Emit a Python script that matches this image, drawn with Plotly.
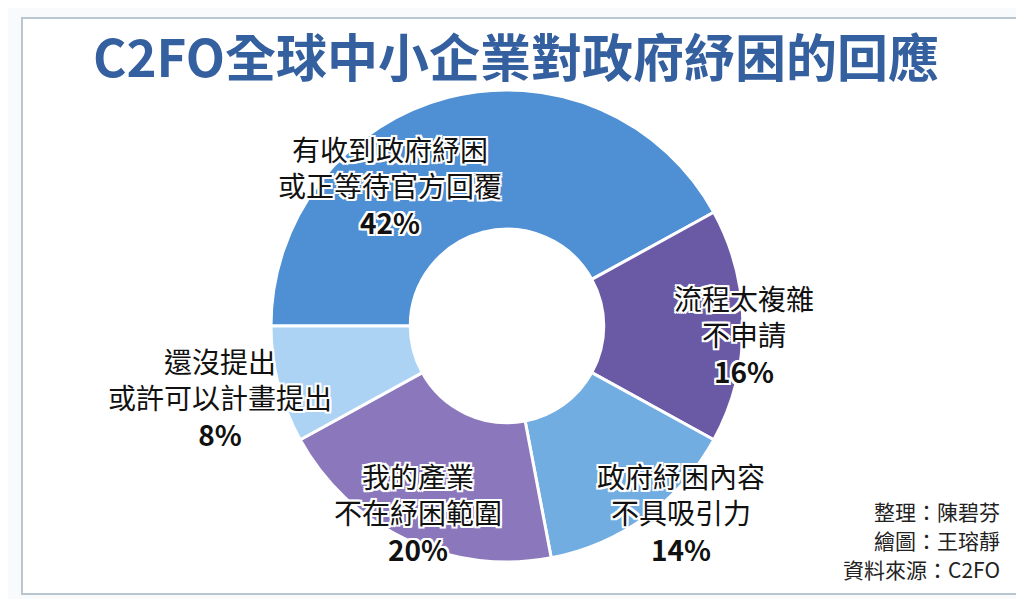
import plotly.graph_objects as go

# ---- data ----
categories = [
    "有收到政府紓困<br>或正等待官方回覆",
    "流程太複雜<br>不申請",
    "政府紓困內容<br>不具吸引力",
    "我的產業<br>不在紓困範圍",
    "還沒提出<br>或許可以計畫提出",
]
values = [42, 16, 14, 20, 8]
colors = ["#4f8fd4", "#6a5aa6", "#72ade2", "#8b78bc", "#acd2f4"]

title_text = "C2FO全球中小企業對政府紓困的回應"
credits = ["整理：陳碧芬", "繪圖：王瑢靜", "資料來源：C2FO"]

W, H = 1024, 599

# label anchor positions (pixels, centre of label block)
label_pos = [(382, 178), (736, 326), (673, 504), (410, 504), (212, 390)]

cx, cy, R = 499, 318, 236

fig = go.Figure()
fig.add_trace(go.Pie(
    labels=categories,
    values=values,
    sort=False,
    direction="clockwise",
    rotation=270,
    hole=0.41,
    marker=dict(colors=colors, line=dict(color="white", width=3)),
    textinfo="none",
    hoverinfo="label+percent",
    showlegend=False,
    domain=dict(x=[(cx - R) / W, (cx + R) / W],
                y=[1 - (cy + R) / H, 1 - (cy - R) / H]),
))

halo = ("2px 0 0 #fff, -2px 0 0 #fff, 0 2px 0 #fff, 0 -2px 0 #fff, "
        "2px 2px 0 #fff, -2px -2px 0 #fff, 2px -2px 0 #fff, -2px 2px 0 #fff")

annotations = []
for cat, val, (px, py) in zip(categories, values, label_pos):
    annotations.append(dict(
        x=px / W, y=1 - py / H, xref="paper", yref="paper",
        xanchor="center", yanchor="middle", showarrow=False, align="center",
        text=f"{cat}<br><b>{val}%</b>",
        font=dict(family="Noto Sans CJK TC", size=28, color="#111111", shadow=halo),
    ))

annotations.append(dict(
    x=508 / W, y=1 - 47 / H, xref="paper", yref="paper",
    xanchor="center", yanchor="middle", showarrow=False,
    text=title_text,
    font=dict(family="Noto Sans CJK TC", size=51, color="#34609f", weight=600),
))

for i, c in enumerate(credits):
    annotations.append(dict(
        x=994 / W, y=1 - (503 + i * 29) / H, xref="paper", yref="paper",
        xanchor="right", yanchor="middle", showarrow=False,
        text=c,
        font=dict(family="Noto Sans CJK TC", size=21, color="#222222"),
    ))

fig.update_layout(
    width=W, height=H,
    margin=dict(l=0, r=0, t=0, b=0),
    paper_bgcolor="#f9fafc",
    plot_bgcolor="white",
    annotations=annotations,
    shapes=[dict(type="rect", xref="paper", yref="paper",
                 x0=14 / W, x1=1010 / W, y0=1 - 586 / H, y1=1 - 10 / H,
                 line=dict(color="#b9c5cf", width=2), fillcolor="white", layer="below")],
)

fig.write_html("out.html")
